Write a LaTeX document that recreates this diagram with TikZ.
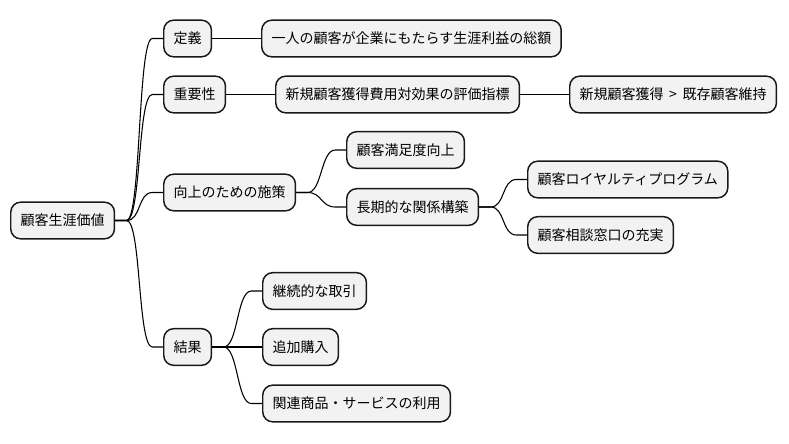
\documentclass[tikz,border=0pt]{standalone}
\usepackage{fontspec}
\setmainfont{Noto Sans CJK JP}
\begin{document}
\begin{tikzpicture}[x=0.75pt,y=-0.75pt,line width=0.8pt,
        main node/.style={rectangle,rounded corners=7.5pt,draw=black!90,fill=gray!10,line width=1.1pt,
            minimum height=27.5pt,inner xsep=7.4pt,anchor=west,font=\fontsize{10.5}{12}\selectfont},
        branch/.style={to path={-- ++(8.5pt,0) .. controls +(11pt,0) and +(-11pt,0) .. ([xshift=-8pt]\tikztotarget) -- (\tikztotarget)}},
        every edge/.style={draw,branch}]

    \useasboundingbox (0,0) rectangle (789,443);

    \node[main node] (1) at (10,220.5) {顧客生涯価値};
    \node[main node] (2) at (163,38.5) {定義};
    \node[main node] (3) at (163,94.5) {重要性};
    \node[main node] (4) at (163,192.5) {向上のための施策};
    \node[main node] (5) at (163,347) {結果};
    \node[main node] (6) at (261,38.5) {一人の顧客が企業にもたらす生涯利益の総額};
    \node[main node] (7) at (275,94.5) {新規顧客獲得費用対効果の評価指標};
    \node[main node] (8) at (569,94.5) {新規顧客獲得\hspace{4.2pt}>\hspace{4.2pt}既存顧客維持};
    \node[main node] (9) at (346,150) {顧客満足度向上};
    \node[main node] (10) at (346,207) {長期的な関係構築};
    \node[main node] (11) at (527,179.5) {顧客ロイヤルティプログラム};
    \node[main node] (12) at (527,235) {顧客相談窓口の充実};
    \node[main node] (13) at (262,291) {継続的な取引};
    \node[main node] (14) at (262,347) {追加購入};
    \node[main node] (15) at (262,403.5) {関連商品・サービスの利用};

    \path
    (1.east) edge (2.west)
             edge (3.west)
             edge (4.west)
             edge (5.west)
    (2.east) edge (6.west)
    (3.east) edge (7.west)
    (7.east) edge (8.west)
    (4.east) edge (9.west)
             edge (10.west)
    (10.east) edge (11.west)
              edge (12.west)
    (5.east) edge (13.west)
             edge (14.west)
             edge (15.west);
\end{tikzpicture}
\end{document}
